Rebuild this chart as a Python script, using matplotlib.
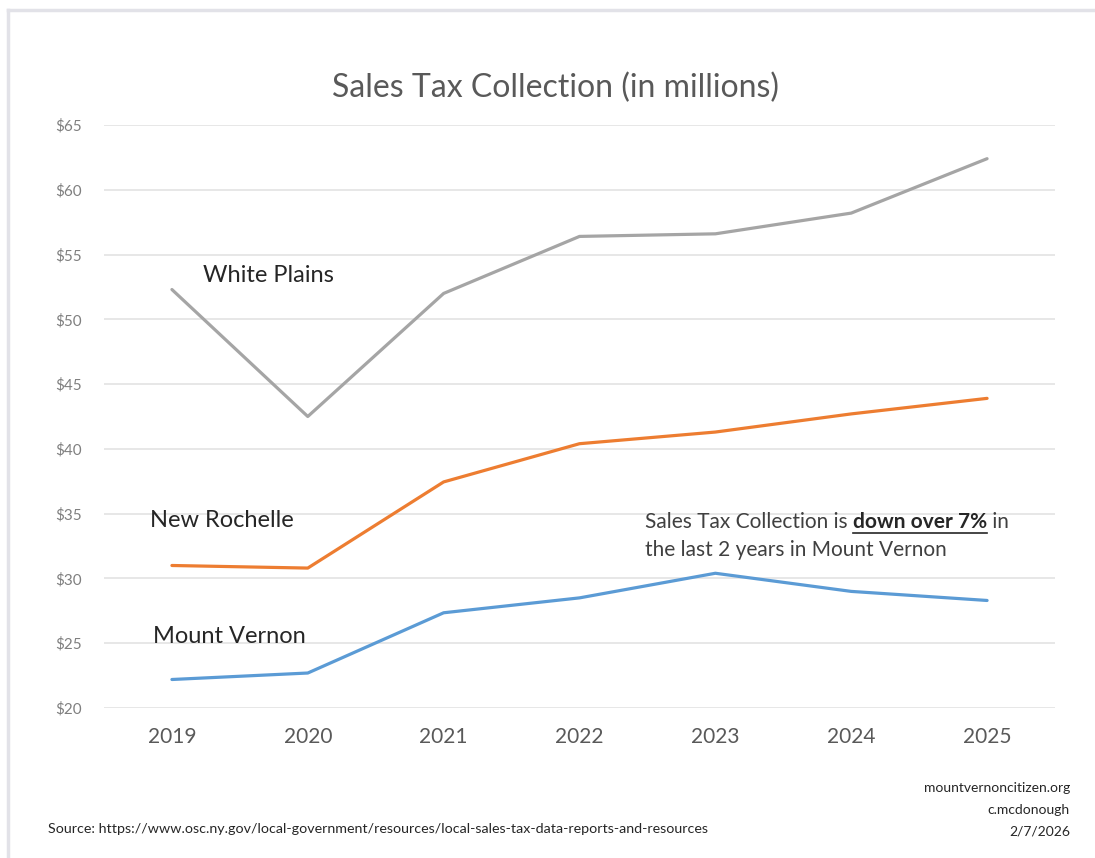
import matplotlib as mpl
mpl.use('Agg')
import matplotlib.pyplot as plt
from matplotlib.lines import Line2D

# data (millions of dollars)
years = ['2019', '2020', '2021', '2022', '2023', '2024', '2025']
white_plains = [52.3, 42.5, 52.0, 56.4, 56.6, 58.2, 62.4]
new_rochelle = [31.0, 30.8, 37.45, 40.4, 41.3, 42.7, 43.9]
mount_vernon = [22.2, 22.7, 27.35, 28.5, 30.4, 29.0, 28.3]
yticks = [20, 25, 30, 35, 40, 45, 50, 55, 60, 65]

plt.rcParams['font.family'] = ['Lato', 'DejaVu Sans']

fig = plt.figure(figsize=(10.95, 8.58), dpi=100)
ax = fig.add_axes([104 / 1095, 1 - 708 / 858, 951 / 1095, 583 / 858])

x = range(len(years))
ax.plot(x, white_plains, color='#A5A5A5', lw=2.3, solid_capstyle='round')
ax.plot(x, new_rochelle, color='#ED7D31', lw=2.3, solid_capstyle='round')
ax.plot(x, mount_vernon, color='#5B9BD5', lw=2.3, solid_capstyle='round')

ax.set_xlim(-0.5, 6.5)
ax.set_ylim(20, 65)
ax.set_xticks(list(x))
ax.set_xticklabels(years, fontsize=15, color='#595959')
ax.set_yticks(yticks)
ax.set_yticklabels(['$' + str(v) for v in yticks], fontsize=11, color='#7f7f7f')
ax.tick_params(length=0)
ax.tick_params(axis='x', pad=14)
ax.tick_params(axis='y', pad=16)
ax.grid(axis='y', color='#E3E3E3', lw=1.2)
ax.set_axisbelow(True)
for s in ax.spines.values():
    s.set_visible(False)

# title
fig.text(556 / 1095, 1 - 88 / 858, 'Sales Tax Collection (in millions)', ha='center', va='center',
         fontsize=23, color='#595959')

# series labels
ax.text(0.23, 53.4, 'White Plains', fontsize=17, color='#262626', va='center')
ax.text(-0.16, 34.45, 'New Rochelle', fontsize=17, color='#262626', va='center')
ax.text(-0.14, 25.5, 'Mount Vernon', fontsize=17, color='#262626', va='center')

# note with bold underlined part
fig.canvas.draw()
r = fig.canvas.get_renderer()
nx, ny = 645 / 1095, 1 - 522 / 858
t1 = fig.text(nx, ny, 'Sales Tax Collection is ', fontsize=15, color='#404040', va='center')
b1 = t1.get_window_extent(r)
t2 = fig.text(b1.x1 / 1095, ny, 'down over 7%', fontsize=15, color='#262626', va='center', fontweight='bold')
b2 = t2.get_window_extent(r)
fig.text(b2.x1 / 1095, ny, ' in', fontsize=15, color='#404040', va='center')
uy = (b2.y0 - 1) / 858
fig.add_artist(Line2D([b2.x0 / 1095, b2.x1 / 1095], [uy, uy], color='#262626', lw=1.2))
fig.text(nx, 1 - 550 / 858, 'the last 2 years in Mount Vernon', fontsize=15, color='#404040', va='center')

# footer
fig.text(48 / 1095, 1 - 829 / 858,
         'Source: https://www.osc.ny.gov/local-government/resources/local-sales-tax-data-reports-and-resources',
         fontsize=10.3, color='#262626', va='center')
fig.text(1070 / 1095, 1 - 788 / 858, 'mountvernoncitizen.org', fontsize=10, color='#262626', va='center', ha='right')
fig.text(1070 / 1095, 1 - 810 / 858, 'c.mcdonough', fontsize=10, color='#262626', va='center', ha='right')
fig.text(1070 / 1095, 1 - 831 / 858, '2/7/2026', fontsize=10, color='#262626', va='center', ha='right')

# light frame around the picture
fig.add_artist(Line2D([8 / 1095, 1], [1 - 10 / 858, 1 - 10 / 858], color='#E2E2E8', lw=2.5))
fig.add_artist(Line2D([8 / 1095, 8 / 1095], [0, 1 - 10 / 858], color='#E2E2E8', lw=2.5))

fig.savefig('out.png', dpi=100)
